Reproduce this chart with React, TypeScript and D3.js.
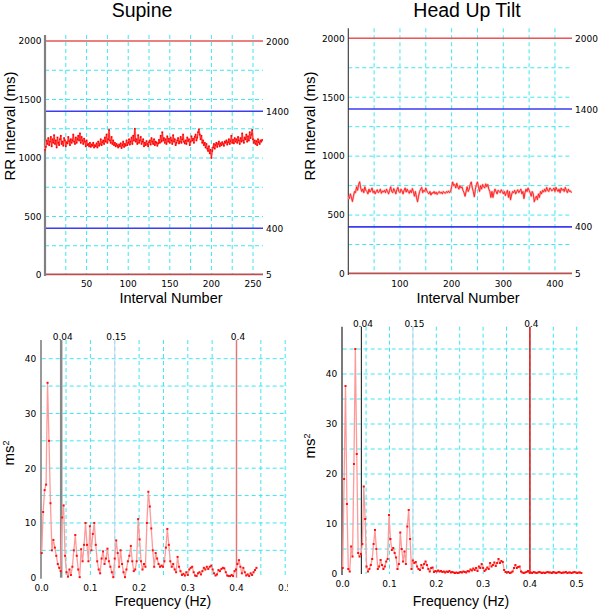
import React from 'react';
import * as d3 from 'd3';

// ---------- data ----------
const supineRR = [
  1070, 1095, 1150, 1120, 1170, 1110, 1140, 1180, 1100, 1160,
  1130, 1195, 1120, 1150, 1090, 1175, 1130, 1110, 1160, 1190,
  1120, 1140, 1105, 1170, 1150, 1100, 1135, 1125, 1180, 1145,
  1110, 1160, 1130, 1150, 1200, 1140, 1120, 1175, 1130, 1160,
  1190, 1150, 1210, 1130, 1180, 1150, 1120, 1165, 1140, 1100,
  1150, 1110, 1120, 1100, 1130, 1095, 1115, 1105, 1130, 1090,
  1110, 1100, 1125, 1090, 1140, 1105, 1120, 1160, 1110, 1135,
  1150, 1120, 1175, 1140, 1200, 1130, 1160, 1240, 1150, 1130,
  1180, 1120, 1150, 1110, 1130, 1100, 1120, 1105, 1090, 1115,
  1100, 1125, 1085, 1110, 1140, 1095, 1120, 1105, 1150, 1110,
  1130, 1160, 1115, 1140, 1175, 1120, 1190, 1150, 1250, 1140,
  1160, 1120, 1195, 1130, 1150, 1180, 1120, 1140, 1160, 1100,
  1130, 1110, 1145, 1120, 1100, 1135, 1150, 1115, 1170, 1140,
  1120, 1160, 1110, 1140, 1130, 1105, 1125, 1155, 1130, 1190,
  1140, 1220, 1150, 1170, 1130, 1160, 1120, 1185, 1140, 1165,
  1130, 1175, 1150, 1120, 1195, 1140, 1160, 1110, 1130, 1150,
  1170, 1125, 1140, 1180, 1130, 1160, 1200, 1140, 1125, 1150,
  1120, 1175, 1145, 1160, 1110, 1140, 1185, 1150, 1165, 1130,
  1180, 1200, 1150, 1175, 1220, 1245, 1200, 1160, 1190, 1130,
  1150, 1110, 1130, 1090, 1120, 1080, 1060, 1100, 1040, 1070,
  1000, 1060, 1090, 1120, 1080, 1110, 1130, 1095, 1120, 1140,
  1100, 1125, 1110, 1135, 1120, 1105, 1140, 1130, 1150, 1115,
  1135, 1160, 1120, 1145, 1190, 1130, 1155, 1125, 1170, 1140,
  1160, 1130, 1180, 1150, 1120, 1170, 1140, 1210, 1150, 1130,
  1175, 1160, 1200, 1140, 1185, 1150, 1220, 1170, 1200, 1240,
  1160, 1130, 1150, 1120, 1145, 1110, 1160, 1135, 1120, 1150,
  1140, 1155,
];
const supineStep = 1;

// every second interval
const tiltRR = [
  660, 640, 680, 650, 615, 660, 700, 690, 740, 710,
  760, 782, 730, 700, 720, 690, 740, 710, 700, 680,
  720, 695, 710, 730, 690, 705, 680, 700, 715, 690,
  700, 720, 685, 705, 695, 710, 690, 720, 700, 680,
  710, 740, 700, 690, 725, 705, 680, 715, 735, 700,
  690, 720, 705, 680, 710, 730, 695, 720, 700, 685,
  710, 690, 725, 700, 660, 700, 650, 613, 660, 700,
  720, 735, 690, 710, 700, 730, 705, 690, 680, 700,
  670, 690, 685, 700, 680, 695, 675, 690, 700, 685,
  695, 680, 700, 690, 685, 700, 690, 705, 690, 700,
  740, 781, 750, 760, 730, 770, 740, 720, 750, 730,
  740, 710, 690, 660, 700, 740, 700, 720, 760, 781,
  730, 700, 655, 720, 760, 781, 740, 700, 750, 720,
  760, 740, 730, 765, 740, 760, 720, 700, 650, 700,
  650, 690, 720, 700, 680, 710, 700, 690, 715, 700,
  680, 700, 665, 690, 710, 650, 700, 630, 670, 700,
  690, 710, 680, 700, 715, 690, 705, 720, 680, 700,
  640, 690, 720, 700, 730, 710, 690, 660, 700, 680,
  613, 640, 660, 630, 680, 650, 700, 680, 710, 695,
  720, 700, 735, 710, 700, 730, 720, 705, 715, 730,
  700, 735, 715, 700, 720, 690, 730, 710, 720, 700,
  735, 710, 690, 720, 700, 705, 690,
];
const tiltStep = 2;

const specDf = 0.003; // Hz between spectral estimates

const supineSpec = [
  4.5, 12, 16, 17, 35.6, 25, 13.6, 5, 6.9, 5.5,
  4, 2.5, 1.8, 1.2, 11, 13.2, 4, 1, 0.2, 1.5,
  0.5, 2, 5, 7.8, 4, 1.5, 0.1, 5.2, 3, 6,
  10, 6, 3, 9.4, 5, 8, 10, 6, 3, 1.5,
  0.8, 3.5, 4.8, 2.5, 3.5, 5.3, 3, 2, 1, 0.1,
  3.5, 6.8, 4.5, 2, 5, 2.5, 1, 0.1, 1.5, 3,
  4, 5.8, 3, 1.2, 1.5, 3, 10.7, 7, 3, 1.5,
  2.5, 2, 10, 15.7, 13, 9, 5, 2, 4.5, 3.5,
  2.5, 2, 2.2, 2, 3, 5.5, 8.9, 6, 3, 2,
  2.5, 1.5, 1, 3.8, 2, 1.2, 0.5, 0.7, 0.4, 1,
  0.5, 1.5, 1.8, 2, 1, 0.4, 0.3, 0.8, 1, 0.6,
  1.2, 1.8, 1.5, 2, 1.6, 2, 2.2, 1.5, 0.8, 0.4,
  0.6, 1.4, 1.2, 1.6, 1.8, 1.7, 1, 0.4, 0.3, 0.3,
  0.5, 0.3, 1.2, 1.5, 2.5, 3.2, 2, 0.8, 1.8, 1,
  0.4, 0.6, 0.3, 0.8, 0.5, 1, 1.4, 1.8,
];

const tiltSpec = [
  1.2, 19, 37.6, 14, 1, 0.5, 5.5, 3.5, 22, 45,
  24, 4.2, 3.5, 4, 6, 17.5, 11, 1.5, 0.5, 1,
  1.8, 3, 6, 8.8, 5, 1, 1.5, 2.8, 1.8, 1,
  1.5, 2.5, 3, 11.8, 7, 4.8, 5.2, 4.2, 3.3, 1,
  2, 8.3, 5, 2.5, 4.5, 2, 9.5, 12.8, 7, 1,
  2.7, 2.2, 2.4, 1.5, 1, 0.8, 1.8, 1.2, 2, 2.5,
  1.8, 1, 0.5, 1.2, 1.3, 0.4, 0.6, 0.5, 0.7, 0.5,
  0.6, 0.4, 0.5, 0.3, 0.5, 0.4, 0.6, 0.3, 0.4, 0.3,
  0.2, 0.3, 0.2, 0.3, 0.4, 0.3, 0.5, 0.4, 0.3, 0.6,
  0.5, 0.9, 0.7, 1.1, 0.8, 1.2, 0.6, 1.5, 1.2, 2,
  1.2, 0.6, 0.9, 1.3, 1, 2.2, 1.5, 1.8, 2.3, 1.6,
  2.2, 3, 2.2, 2.6, 2.4, 0.8, 0.4, 0.3, 0.4, 0.2,
  0.3, 0.5, 1.2, 1.8, 1.2, 1.4, 1.5, 0.5, 0.3, 0.2,
  0.3, 0.4, 0.6, 0.3, 0.3, 0.2, 0.4, 0.3, 0.2, 0.3,
  0.4, 0.3, 0.2, 0.3, 0.2, 0.3, 0.4, 0.3, 0.3, 0.2,
  0.4, 0.3, 0.2, 0.3, 0.4, 0.3, 0.2, 0.3, 0.3, 0.4,
  0.2, 0.3, 0.3, 0.2, 0.3, 0.4, 0.3, 0.2, 0.3, 0.3,
  0.2,
];

const refLevels = [2000, 1400, 400, 5];
const refLabels = ['2000', '1400', '400', '5'];
const rrYTicks = [0, 500, 1000, 1500, 2000];
const supineXTicks = [50, 100, 150, 200, 250];
const tiltXTicks = [100, 200, 300, 400];
const bandEdges = [0.04, 0.15, 0.4];
const bandLabels = ['0.04', '0.15', '0.4'];
const specXTicks = [0, 0.1, 0.2, 0.3, 0.4, 0.5];
const specYTicks = [0, 10, 20, 30, 40];

// ---------- styles ----------
const GRID = '#3fe6f2';
const SANS = '"Liberation Sans", Arial, Helvetica, sans-serif';
const TICKF = '"DejaVu Sans", Verdana, sans-serif';

type RRProps = {
  data: number[]; step: number; xMax: number;
  xr: [number, number]; yr: [number, number]; topPx: number;
  gridStep: number; xTicks: number[]; title: string; titleX: number;
  axisColor: string; axisW: number; dots: boolean; yLabelX: number; xLabelX: number;
};

function RRPanel(p: RRProps) {
  const x = d3.scaleLinear().domain([0, p.xMax]).range(p.xr);
  const y = d3.scaleLinear().domain([0, 2000]).range(p.yr);
  const pts: [number, number][] = p.data.map((v, i) => [x(i * p.step), y(v)]);
  const path = d3.line()(pts) || '';
  const gx = d3.range(p.gridStep, p.xMax, p.gridStep);
  const gy = d3.range(250, 2000, 250);
  const refColor = (v: number) => (v === 2000 ? '#e85555' : v === 5 ? '#b85050' : '#3c3cf0');
  const x0 = p.xr[0], x1 = p.xr[1];
  const yBottom = y(0);
  return (
    <g>
      <text x={p.titleX} y={17} fontFamily={SANS} fontSize={19.5} textAnchor="middle" fill="#000">{p.title}</text>
      {gx.map((v) => (
        <line key={'gx' + v} x1={x(v)} x2={x(v)} y1={p.topPx} y2={yBottom} stroke={GRID} strokeWidth={1} strokeDasharray="4,3" />
      ))}
      {gy.map((v) => (
        <line key={'gy' + v} x1={x0} x2={x1} y1={y(v)} y2={y(v)} stroke={GRID} strokeWidth={1} strokeDasharray="4,3" />
      ))}
      {refLevels.map((v, i) => (
        <g key={'ref' + v}>
          <line x1={x0} x2={x1} y1={y(v)} y2={y(v)} stroke={refColor(v)} strokeWidth={1.6} />
          <text x={x1 + 3} y={y(v) + 3.5} fontFamily={TICKF} fontSize={9} fill="#000">{refLabels[i]}</text>
        </g>
      ))}
      <line x1={x0} x2={x0} y1={p.topPx} y2={yBottom + 1} stroke={p.axisColor} strokeWidth={p.axisW} />
      <path d={path} fill="none" stroke="#ffb0b0" strokeWidth={2} strokeLinejoin="round" />
      <path d={path} fill="none" stroke="#ff1a1a" strokeWidth={0.9} strokeLinejoin="round" />
      {p.dots && pts.map((q, i) => (
        <rect key={'d' + i} x={q[0] - 0.8} y={q[1] - 0.8} width={1.6} height={1.6} fill="#ff0000" />
      ))}
      {rrYTicks.map((v) => (
        <text key={'yt' + v} x={x0 - 3.5} y={y(v) + 3.3} fontFamily={TICKF} fontSize={9} textAnchor="end" fill="#000">{v}</text>
      ))}
      {p.xTicks.map((v) => (
        <text key={'xt' + v} x={x(v)} y={287} fontFamily={TICKF} fontSize={9} textAnchor="middle" fill="#000">{v}</text>
      ))}
      <text x={p.xLabelX} y={303} fontFamily={SANS} fontSize={14.5} textAnchor="middle" fill="#000">Interval Number</text>
      <text transform={`translate(${p.yLabelX},126) rotate(-90)`} fontFamily={SANS} fontSize={15} textAnchor="middle" fill="#000">RR Interval (ms)</text>
    </g>
  );
}

type SpecProps = {
  data: number[]; xr: [number, number]; yr: [number, number];
  topPx: number; yTopVal: number; rightPx: number; clipRight: number;
  bandColors: string[]; bandWidths: number[]; axisColor: string; axisW: number;
  labelY: number; xTickY: number; msY: number; freqX: number; id: string;
};

function SpecPanel(p: SpecProps) {
  const x = d3.scaleLinear().domain([0, 0.5]).range(p.xr);
  const y = d3.scaleLinear().domain([0, 40]).range(p.yr);
  const pts: [number, number][] = p.data.map((v, i) => [x(i * specDf), y(v)]);
  const path = d3.line()(pts) || '';
  const gx = d3.range(1, 11).map((k) => k * 0.05);
  const gy = d3.range(5, p.yTopVal, 5);
  const x0 = p.xr[0];
  const yBottom = y(0);
  return (
    <g>
      <defs>
        <clipPath id={p.id}>
          <rect x={0} y={0} width={p.clipRight} height={611} />
        </clipPath>
      </defs>
      {gx.map((v) => (
        <line key={'gx' + v} x1={x(v)} x2={x(v)} y1={p.topPx} y2={yBottom} stroke={GRID} strokeWidth={1} strokeDasharray="4,3" />
      ))}
      {gy.map((v) => (
        <line key={'gy' + v} x1={x0} x2={p.rightPx} y1={y(v)} y2={y(v)} stroke={GRID} strokeWidth={1} strokeDasharray="4,3" />
      ))}
      {bandEdges.map((v, i) => (
        <g key={'b' + v}>
          <line x1={x(v)} x2={x(v)} y1={p.topPx} y2={yBottom} stroke={p.bandColors[i]} strokeWidth={p.bandWidths[i]} />
          <text x={x(v) + 1.5} y={p.labelY} fontFamily={TICKF} fontSize={9} textAnchor="middle" fill="#000">{bandLabels[i]}</text>
        </g>
      ))}
      <line x1={x0 - 0.7} x2={x0 - 0.7} y1={p.topPx} y2={yBottom + 1} stroke={p.axisColor} strokeWidth={p.axisW} />
      <path d={path} fill="none" stroke="#ff9a9a" strokeWidth={1.3} strokeLinejoin="round" />
      {pts.map((q, i) => (
        <rect key={'d' + i} x={q[0] - 1} y={q[1] - 1} width={2} height={2} fill="#ff1010" />
      ))}
      {specYTicks.map((v) => (
        <text key={'yt' + v} x={x0 - 5.5} y={y(v) + 3.3} fontFamily={TICKF} fontSize={9} textAnchor="end" fill="#000">{v}</text>
      ))}
      <g clipPath={`url(#${p.id})`}>
        {specXTicks.map((v) => (
          <text key={'xt' + v} x={x(v)} y={p.xTickY} fontFamily={TICKF} fontSize={9} textAnchor="middle" fill="#000">{v.toFixed(1)}</text>
        ))}
      </g>
      <text x={p.freqX} y={606} fontFamily={SANS} fontSize={14} textAnchor="middle" fill="#000">Frequency (Hz)</text>
      <text transform={`translate(${x0 - 28},${p.msY}) rotate(-90)`} fontFamily={SANS} fontSize={15} textAnchor="middle" fill="#000">
        ms<tspan dy={-5} fontSize={9}>2</tspan>
      </text>
    </g>
  );
}

export default function App() {
  return (
    <svg width={600} height={611} style={{ position: 'absolute', left: 0, top: 0, background: '#fff' }}>
      <rect x={0} y={0} width={600} height={611} fill="#fff" />
      <RRPanel data={supineRR} step={supineStep} xMax={262} xr={[45, 263]} yr={[275, 41]} topPx={35}
        gridStep={25} xTicks={supineXTicks} title="Supine" titleX={142} axisColor="#808080" axisW={2.2}
        dots={true} yLabelX={15} xLabelX={171} />
      <RRPanel data={tiltRR} step={tiltStep} xMax={433} xr={[348.3, 572]} yr={[274, 38.3]} topPx={28.3}
        gridStep={50} xTicks={tiltXTicks} title="Head Up Tilt" titleX={467} axisColor="#333" axisW={1.1}
        dots={false} yLabelX={315} xLabelX={468} />
      <SpecPanel id="clipL" data={supineSpec} xr={[41.7, 285.2]} yr={[577.7, 358.7]} topPx={340} yTopVal={43}
        rightPx={287} clipRight={288} bandColors={['#888888', '#c4d8e6', '#e07878']} bandWidths={[2.5, 1, 1.5]}
        axisColor="#808080" axisW={1.6} labelY={339.5} xTickY={591} msY={453} freqX={163} />
      <SpecPanel id="clipR" data={tiltSpec} xr={[342.7, 576.7]} yr={[574, 374]} topPx={326.7} yTopVal={49}
        rightPx={578} clipRight={600} bandColors={['#333333', '#c8d8e8', '#e01010']} bandWidths={[1.2, 1, 1.5]}
        axisColor="#222" axisW={1.2} labelY={327} xTickY={587} msY={446} freqX={461} />
    </svg>
  );
}
